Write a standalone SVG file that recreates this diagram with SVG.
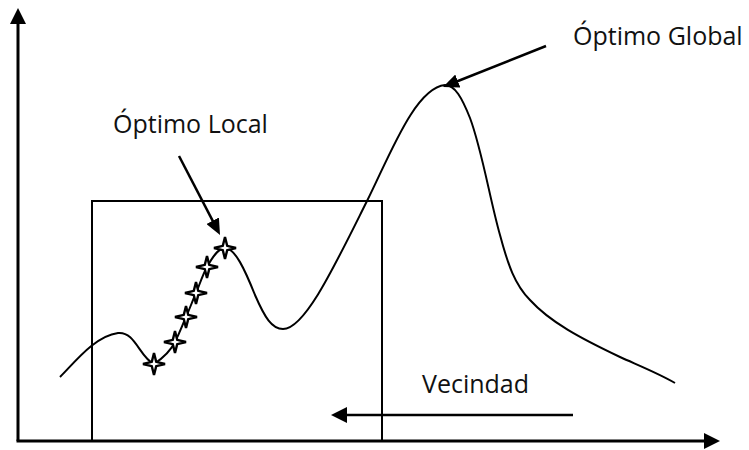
<svg xmlns="http://www.w3.org/2000/svg" width="749" height="450" viewBox="0 0 749 450">
<style>
.ax{stroke:#000;stroke-width:3;fill:none}
.ln{stroke:#000;stroke-width:2.5;fill:none}
.box{stroke:#000;stroke-width:2;fill:none}
.crv{stroke:#000;stroke-width:2;fill:none;stroke-linejoin:round}
.lbl{font-family:"Open Sans","Noto Sans","Liberation Sans",sans-serif;font-size:25px;fill:#111}
.star{fill:#fff;stroke:#000;stroke-width:2.4;stroke-linejoin:miter}
</style>
<defs>
<marker id="ah" viewBox="0 0 16 16" refX="12" refY="8" markerWidth="16" markerHeight="16" markerUnits="userSpaceOnUse" orient="auto">
<path d="M0,0 L16,8 L0,16 Z" fill="#000"/>
</marker>
<marker id="ah2" viewBox="0 0 16 14" refX="12" refY="7" markerWidth="16" markerHeight="14" markerUnits="userSpaceOnUse" orient="auto">
<path d="M0,0 L16,7 L0,14 Z" fill="#000"/>
</marker>
<path id="st" class="star" d="M0,-11 L2.2,-2.2 L11,0 L2.2,2.2 L0,11 L-2.2,2.2 L-11,0 L-2.2,-2.2 Z"/>
</defs>
<g id="axes">
<line class="ax" x1="18" y1="441" x2="18" y2="12" marker-end="url(#ah)"/>
<line class="ax" x1="16.5" y1="441" x2="716" y2="441" marker-end="url(#ah)"/>
</g>
<g id="vecindad-box">
<rect class="box" x="92" y="201" width="290" height="240"/>
</g>
<g id="curve">
<path class="crv" d="M60,377 C75,362 95,336 118,333 C135,331 140,358 154,364 C163,358 170,352 175,342 S182,326 186,317 S192,302 196,293 S202,276 207,267 S218,248 225,248 C235,248 245,270 255,295 C265,318 272,329 283,329 C305,329 335,265 367,201 C390,155 415,88 445,85 C455,85 462,98 470,118 C482,150 490,200 500,235 C508,265 515,285 530,300 C550,322 580,338 620,357 C640,366 660,374 675,383"/>
</g>
<g id="stars">
<use href="#st" x="154" y="364"/>
<use href="#st" x="175" y="342"/>
<use href="#st" x="186" y="317"/>
<use href="#st" x="196" y="293"/>
<use href="#st" x="207" y="267"/>
<use href="#st" x="225" y="248"/>
</g>
<g id="connectors">
<line class="ln" x1="546" y1="46" x2="446.7" y2="85.5" marker-end="url(#ah2)"/>
<line class="ln" x1="179" y1="156" x2="218.2" y2="231.4" marker-end="url(#ah2)"/>
<line class="ln" x1="573" y1="415" x2="335" y2="415" marker-end="url(#ah)"/>
</g>
<g id="label-global"><text class="lbl" x="573" y="45">Óptimo Global</text></g>
<g id="label-local"><text class="lbl" x="113" y="133">Óptimo Local</text></g>
<g id="label-vecindad"><text class="lbl" x="422" y="393">Vecindad</text></g>
</svg>
